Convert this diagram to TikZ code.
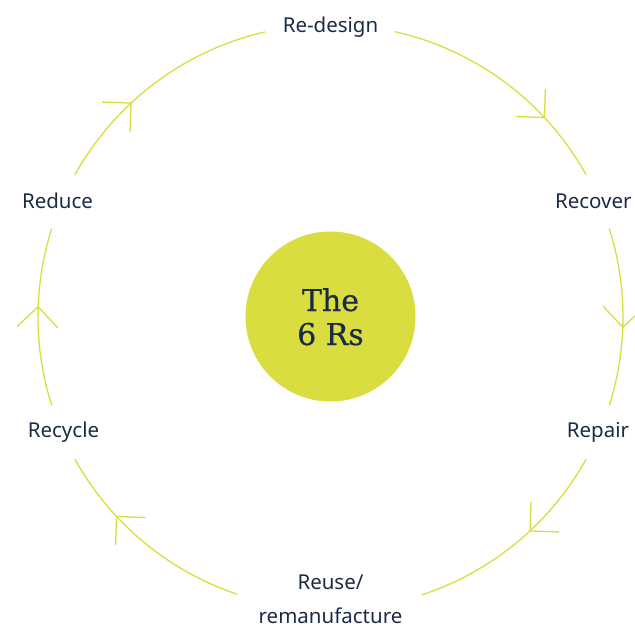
\documentclass[tikz,border=0pt]{standalone}
\usepackage{fontspec}
\setmainfont{Noto Sans}
\newfontfamily\hubfont[FakeBold=0.6]{DejaVu Serif}
\usetikzlibrary{calc}
\definecolor{lime}{HTML}{D9DD40}
\definecolor{navy}{HTML}{1C2B45}
\tikzset{
  ring/.style={draw=lime,line width=1.3pt},
  rlabel/.style={text=navy,font=\fontsize{20.5}{34}\selectfont,inner sep=0pt,anchor=base}
}

\begin{document}
\begin{tikzpicture}[x=1pt,y=1pt]
      \useasboundingbox (-330.5,-313) rectangle (304.5,317);
      \def\R{292.5}

      \node[circle,fill=lime,minimum size=170pt,inner sep=0pt] (hub) at (0,0.5) {};
      \node[text=navy,font=\hubfont\fontsize{30}{34}\selectfont,align=center,anchor=base] (title) at (0,-28) {The\\6 Rs};

      \node[rlabel] (redesign) at (0,284.7) {Re-design};
      \node[rlabel] (recover) at (262.8,108.7) {Recover};
      \node[rlabel] (repair) at (267.5,-120) {Repair};
      \node[rlabel,align=center] (reuse) at (0,-306.3) {Reuse/\\remanufacture};
      \node[rlabel] (recycle) at (-267,-120) {Recycle};
      \node[rlabel] (reduce) at (-273,108.7) {Reduce};

      % arcs running clockwise, each with an open head part way along
      \foreach \s/\e/\h [count=\i] in {150.9/102.9/133, 77.3/29.1/43, 17.6/-17.6/-2,
                                      -29.1/-71.8/-47, -108.6/-150.9/-137, 197.6/162.4/178}{
        \coordinate (s\i) at (\s:\R);
        \coordinate (h\i) at (\h:\R);
        \draw[ring] (s\i) arc[start angle=\s,end angle=\e,radius=\R];
        \draw[ring] ($(h\i)+(\h+135:29)$) -- (h\i) -- ++(\h+45:29);
      }
    \end{tikzpicture}
\end{document}
